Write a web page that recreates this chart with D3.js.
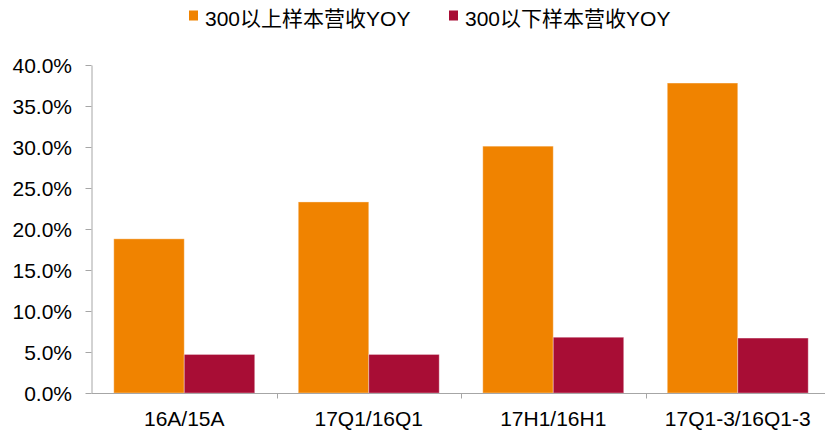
<!DOCTYPE html>
<html>
<head>
<meta charset="utf-8">
<script src="https://cdn.jsdelivr.net/npm/d3@7"></script>
<style>
  html, body { margin: 0; padding: 0; background: #fff; }
  svg { display: block; }
  text { font-family: "Liberation Sans", Arial, "Noto Sans CJK SC", sans-serif; fill: #000; }
</style>
</head>
<body>
<svg id="chart" width="825" height="432"></svg>
<script>
// Revenue YoY growth by sample group
const categories = ["16A/15A", "17Q1/16Q1", "17H1/16H1", "17Q1-3/16Q1-3"];
const seriesNames = ["300以上样本营收YOY", "300以下样本营收YOY"];
const above300 = [18.8, 23.3, 30.1, 37.8];
const below300 = [4.7, 4.7, 6.8, 6.7];
const yTicks = [0, 5, 10, 15, 20, 25, 30, 35, 40];
const colors = ["#F08300", "#A80D35"];

const seriesValues = [above300, below300];
const svg = d3.select("#chart");

const x0 = d3.scaleBand().domain(categories).range([92, 830]).paddingInner(0).paddingOuter(0);
const x1 = d3.scaleBand().domain(seriesNames).range([0, x0.bandwidth()]).paddingInner(0).paddingOuter(0.309);
const y = d3.scaleLinear().domain([0, 40]).range([393, 65]);

const axisColor = "#A6A6A6";

// Bars
const groups = svg.append("g").selectAll("g")
  .data(categories)
  .join("g")
  .attr("transform", d => `translate(${x0(d)},0)`);

groups.selectAll("rect")
  .data((c, i) => seriesNames.map((s, k) => ({ s, k, v: seriesValues[k][i] })))
  .join("rect")
  .attr("x", d => x1(d.s))
  .attr("width", x1.bandwidth())
  .attr("y", d => y(d.v))
  .attr("height", d => y(0) - y(d.v))
  .attr("fill", d => colors[d.k])
  .attr("stroke", "rgba(255,255,255,0.35)")
  .attr("stroke-width", 1);

// Y axis
const yAxis = svg.append("g")
  .attr("transform", "translate(91.5,0)")
  .call(d3.axisLeft(y).tickValues(yTicks).tickSize(6).tickSizeOuter(0)
    .tickFormat(d => d.toFixed(1) + "%"));
yAxis.select(".domain").attr("stroke", axisColor);
yAxis.selectAll(".tick line").attr("stroke", axisColor);
yAxis.selectAll(".tick text")
  .attr("x", -19.5)
  .attr("dy", null)
  .attr("y", 7.5)
  .style("font-size", "21px")
  .attr("fill", "#000");

// X axis with ticks at category boundaries
const xAxis = svg.append("g").attr("transform", `translate(0,${y(0) + 0.5})`);
xAxis.append("line")
  .attr("x1", 91.5).attr("x2", 830)
  .attr("stroke", axisColor);
xAxis.selectAll("line.bound")
  .data(categories.slice(1))
  .join("line")
  .attr("class", "bound")
  .attr("x1", d => Math.round(x0(d)) + 0.5)
  .attr("x2", d => Math.round(x0(d)) + 0.5)
  .attr("y1", 0).attr("y2", 5)
  .attr("stroke", axisColor);
xAxis.selectAll("text")
  .data(categories)
  .join("text")
  .attr("x", d => x0(d) + x0.bandwidth() / 2)
  .attr("y", 32)
  .attr("text-anchor", "middle")
  .style("font-size", "21px")
  .text(d => d);

// Legend
const legendX = [189, 449];
const legend = svg.append("g").selectAll("g")
  .data(seriesNames)
  .join("g")
  .attr("transform", (d, i) => `translate(${legendX[i]},0)`);
legend.append("rect")
  .attr("x", 0).attr("y", 10.5)
  .attr("width", 9).attr("height", 10)
  .attr("fill", (d, i) => colors[i]);
legend.append("text")
  .attr("x", 16).attr("y", 26)
  .style("font-size", "21px")
  .text(d => d);
</script>
</body>
</html>
